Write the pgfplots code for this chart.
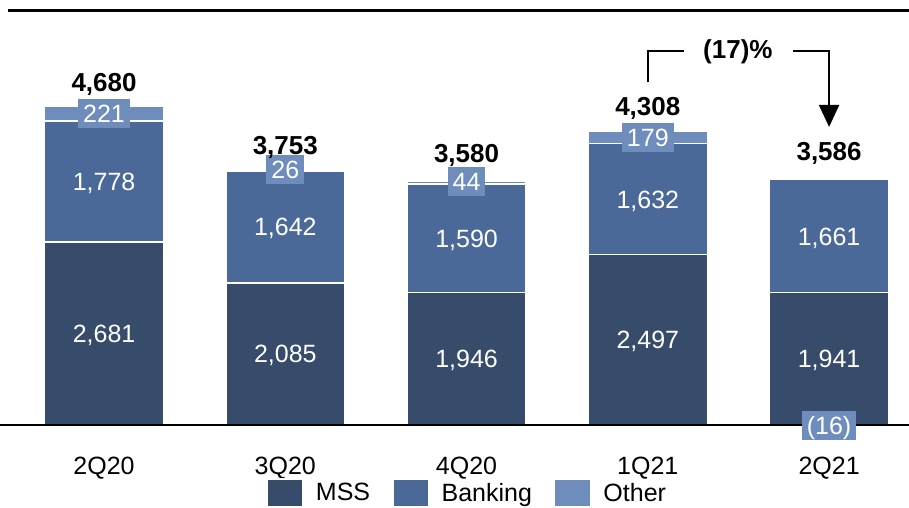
\documentclass[border=0pt]{standalone}
\usepackage{pgfplots}
\pgfplotsset{compat=1.18}
\usetikzlibrary{arrows.meta}
\usepackage{fontspec}
\setmainfont{Liberation Sans}

\definecolor{mss}{HTML}{374B6B}
\definecolor{bank}{HTML}{4A6998}
\definecolor{oth}{HTML}{6E8DBD}

\pgfplotsset{
  frame/.style={
    at={(0bp,0bp)}, anchor=south west,
    scale only axis, width=909bp, height=417bp,
    xmin=-0.574, xmax=4.441, ymin=0, ymax=6114,
    bar width=119bp, clip=false,
  },
}

\begin{document}
\begin{tikzpicture}[font=\fontsize{25bp}{30bp}\selectfont,
  seg/.style={text=white, anchor=base, yshift=-9bp},
  ob/.style={fill=oth, text=white, inner xsep=5bp, inner ysep=0pt,
    minimum height=29bp, text height=18bp, text depth=0bp},
  tot/.style={anchor=base, font=\fontsize{26bp}{30bp}\selectfont\bfseries}]
\path[use as bounding box] (0bp,-83bp) rectangle (909bp,425bp);

% negative "Other" for 2Q21 sits under the baseline, not on the stack
\begin{axis}[frame, ybar, hide axis]
\addplot[fill=oth, draw=none] coordinates {(4,-16)};
\end{axis}

\begin{axis}[frame, ybar stacked,
  axis y line=none, axis x line*=bottom,
  x axis line style={draw=none},
  xtick={0,1,2,3,4}, xticklabels={2Q20,3Q20,4Q20,1Q21,2Q21},
  major tick length=0pt,
  xticklabel style={anchor=base, yshift=-49bp},
  legend columns=3,
  legend style={at={(0.514,-0.127)}, anchor=north, draw=none, fill=none,
    inner sep=0pt,
    /tikz/every odd column/.append style={column sep=10bp},
    /tikz/every even column/.append style={column sep=20bp}},
  legend image code/.code={\fill[#1] (0bp,-14bp) rectangle (36bp,14bp);},
]
\addplot[fill=mss, draw=white, line width=1.5bp] coordinates {(0,2681) (1,2085) (2,1946) (3,2497) (4,1941)};
\addplot[fill=bank, draw=white, line width=1.5bp] coordinates {(0,1778) (1,1642) (2,1590) (3,1632) (4,1661)};
\addplot[fill=oth, draw=white, line width=1.5bp] coordinates {(0,221) (1,26) (2,44) (3,179)};
\legend{MSS, Banking, Other}
\end{axis}

% labels, baseline and bracket on top of the bars
\begin{axis}[frame, hide axis]
\draw[line width=2.5bp] (axis cs:-0.574,0) -- (axis cs:4.441,0);

\node[seg] at (axis cs:0,1340) {2,681};
\node[seg] at (axis cs:1,1042) {2,085};
\node[seg] at (axis cs:2,973) {1,946};
\node[seg] at (axis cs:3,1248) {2,497};
\node[seg] at (axis cs:4,970) {1,941};
\node[seg] at (axis cs:0,3570) {1,778};
\node[seg] at (axis cs:1,2906) {1,642};
\node[seg] at (axis cs:2,2741) {1,590};
\node[seg] at (axis cs:3,3313) {1,632};
\node[seg] at (axis cs:4,2771) {1,661};
\node[ob] at (axis cs:0,4570) {221};
\node[ob] at (axis cs:1,3750) {26};
\node[ob] at (axis cs:2,3570) {44};
\node[ob] at (axis cs:3,4218) {179};
\node[ob] at (axis cs:4,-10) {(16)};

\node[tot] at (axis cs:0,4883) {4,680};
\node[tot] at (axis cs:1,3959) {3,753};
\node[tot] at (axis cs:2,3856) {3,580};
\node[tot] at (axis cs:3,4545) {4,308};
\node[tot] at (axis cs:4,3871) {3,586};

\draw[line width=2bp] (axis cs:3,5029) |- (axis cs:3.199,5484);
\node[font=\fontsize{26bp}{30bp}\selectfont\bfseries] at (axis cs:3.497,5470) {(17)\%};
\draw[line width=2bp, -{Triangle[width=20bp,length=22bp]}] (axis cs:3.8,5484) -| (axis cs:4,4370);

% rule under the cut-off heading
\draw[line width=2.5bp] (axis cs:-0.53,6078) -- (axis cs:4.441,6078);
\end{axis}
\end{tikzpicture}
\end{document}
